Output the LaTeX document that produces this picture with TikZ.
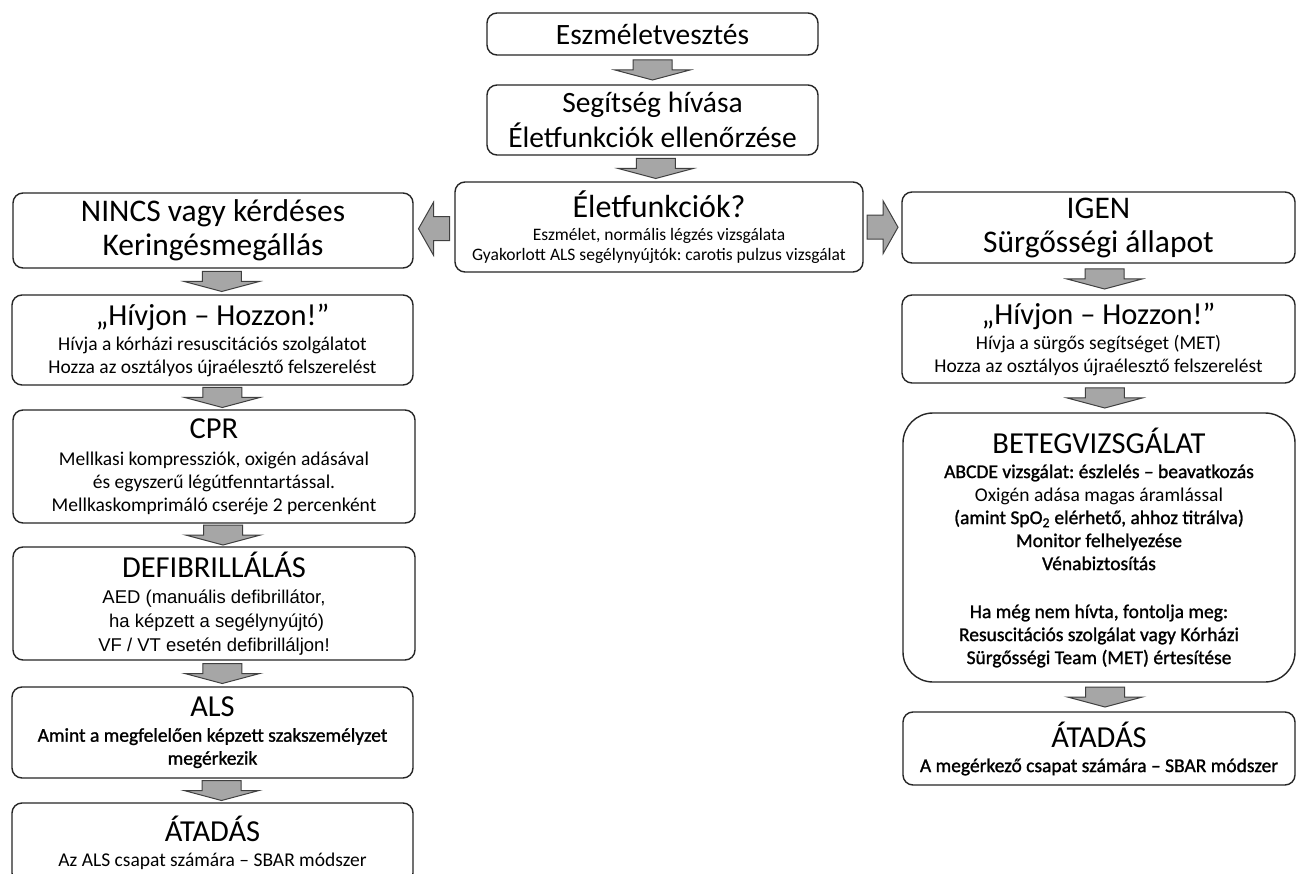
\documentclass[tikz,border=0pt]{standalone}
\usepackage{fontspec}
\setmainfont{Carlito}
\newfontfamily\arialfont{Liberation Sans}
\newfontfamily\semifont[FakeBold=1.2]{Carlito}
\usetikzlibrary{calc}
\frenchspacing

\newcommand{\ttl}[1]{{\fontsize{30.5}{35}\selectfont #1}}

\tikzset{
  stepbox/.style={draw=black!85, line width=1.4pt, rounded corners=10pt, fill=white,
    align=center, inner sep=0pt, font=\fontsize{19.5}{23}\selectfont},
  blockarrow/.style={draw=black!75, line width=1pt, fill=gray!70, line join=miter},
}

% Block arrows between named boxes
\newcommand{\blockdown}[3][0]{%
  \path ($(#2.south)!0.5!(#3.north)$) ++(#1,0) coordinate (m);
  \draw[blockarrow] (m) ++(-19.5,-10) -- ++(39,0) -- ++(0,10) -- ++(18,0)
    -- ++(-37.5,10) -- ++(-37.5,-10) -- ++(18,0) -- cycle;
}
\newcommand{\blockleft}[2]{%
  \path ($(#1.west)!0.5!(#2.east)$) coordinate (m);
  \draw[blockarrow] (m) ++(15.5,-12) -- ++(-16,0) -- ++(0,-14.5) -- ++(-15,26.5)
    -- ++(15,26.5) -- ++(0,-14.5) -- ++(16,0) -- cycle;
}
\newcommand{\blockright}[2]{%
  \path ($(#1.east)!0.5!(#2.west)$) coordinate (m);
  \draw[blockarrow] (m) ++(-15.5,-12) -- ++(16,0) -- ++(0,-14.5) -- ++(15,26.5)
    -- ++(-15,26.5) -- ++(0,-14.5) -- ++(-16,0) -- cycle;
}

\begin{document}
\begin{tikzpicture}[x=1pt, y=-1pt]

% Keret
\useasboundingbox (0,0) rectangle (1296,874);
\clip (0,0) rectangle (1296,874);
\fill[white] (0,0) rectangle (1296,874);

% Felső sor
\node[stepbox, minimum width=331pt, minimum height=42pt,
  font=\fontsize{29.5}{35}\selectfont] (loss) at (652.5,34) {Eszméletvesztés};
\node[stepbox, minimum width=331pt, minimum height=70pt,
  font=\fontsize{29.5}{35}\selectfont] (help) at (652.5,120)
  {Segítség hívása\\Életfunkciók ellenőrzése};
\node[stepbox, minimum width=408pt, minimum height=90pt,
  font=\fontsize{17.5}{20}\selectfont] (vital) at (659,227)
  {{\fontsize{32}{35}\selectfont Életfunkciók?}\\[3pt]
   Eszmélet, normális légzés vizsgálata\\
   Gyakorlott ALS segélynyújtók: carotis pulzus vizsgálat};

% Bal oszlop
\node[stepbox, minimum width=400pt, minimum height=75pt,
  font=\fontsize{31.5}{34}\selectfont] (nincs) at (213,230.5)
  {NINCS vagy kérdéses\\Keringésmegállás};
\node[stepbox, minimum width=401pt, minimum height=90pt] (callL) at (212.5,340)
  {\ttl{„Hívjon – Hozzon!”}\\[2pt]
   Hívja a kórházi resuscitációs szolgálatot\\
   Hozza az osztályos újraélesztő felszerelést};
\node[stepbox, minimum width=402pt, minimum height=113pt] (cpr) at (214,466.5)
  {\ttl{CPR}\\[4pt]
   Mellkasi kompressziók, oxigén adásával\\
   és egyszerű légútfenntartással.\\
   Mellkaskomprimáló cseréje 2 percenként};
\node[stepbox, minimum width=402pt, minimum height=113pt] (defib) at (214,603.5)
  {\ttl{DEFIBRILLÁLÁS}\\[3pt]
   {\arialfont\fontsize{18.5}{23}\selectfont AED (manuális defibrillátor,}\\[1pt]
   {\arialfont\fontsize{18.5}{23}\selectfont \ ha képzett a segélynyújtó)}\\[1pt]
   {\arialfont\fontsize{18.5}{23}\selectfont VF / VT esetén defibrilláljon!}};
\node[stepbox, minimum width=401pt, minimum height=91pt] (als) at (212.5,732.5)
  {\ttl{ALS}\\[2pt]
   {\semifont Amint a megfelelően képzett szakszemélyzet}\\
   {\semifont megérkezik}};
\node[stepbox, minimum width=401pt, minimum height=80pt] (handL) at (212.5,843)
  {\ttl{ÁTADÁS}\\[2pt]
   Az ALS csapat számára – SBAR módszer};

% Jobb oszlop
\node[stepbox, minimum width=393pt, minimum height=71pt,
  font=\fontsize{31.5}{34}\selectfont] (igen) at (1098.5,227.5)
  {IGEN\\Sürgősségi állapot};
\node[stepbox, minimum width=393pt, minimum height=88pt] (callR) at (1098.5,339)
  {\ttl{„Hívjon – Hozzon!”}\\[2pt]
   Hívja a sürgős segítséget (MET)\\
   Hozza az osztályos újraélesztő felszerelést};
\node[stepbox, rounded corners=30pt, minimum width=392pt, minimum height=269pt]
  (assess) at (1099,547.5)
  {\ttl{BETEGVIZSGÁLAT}\\[2pt]
   {\semifont ABCDE vizsgálat: észlelés – beavatkozás}\\
   Oxigén adása magas áramlással\\
   {\semifont (amint SpO\textsubscript{2} elérhető, ahhoz titrálva)}\\
   {\semifont Monitor felhelyezése}\\
   {\semifont Vénabiztosítás}\\[25pt]
   {\semifont Ha még nem hívta, fontolja meg:}\\
   {\semifont Resuscitációs szolgálat vagy Kórházi}\\
   {\semifont Sürgősségi Team (MET) értesítése}};
\node[stepbox, minimum width=392pt, minimum height=73pt] (handR) at (1099,748.5)
  {\ttl{ÁTADÁS}\\[2pt]
   {\semifont A megérkező csapat számára – SBAR módszer}};

% Nyilak
\blockdown{loss}{help}
\blockdown{help}{vital}
\blockleft{vital}{nincs}
\blockright{vital}{igen}
\blockdown[9]{nincs}{callL}
\blockdown[9]{callL}{cpr}
\blockdown[9]{cpr}{defib}
\blockdown[9]{defib}{als}
\blockdown[9]{als}{handL}
\blockdown[6]{igen}{callR}
\blockdown[6]{callR}{assess}
\blockdown[6]{assess}{handR}

\end{tikzpicture}
\end{document}
